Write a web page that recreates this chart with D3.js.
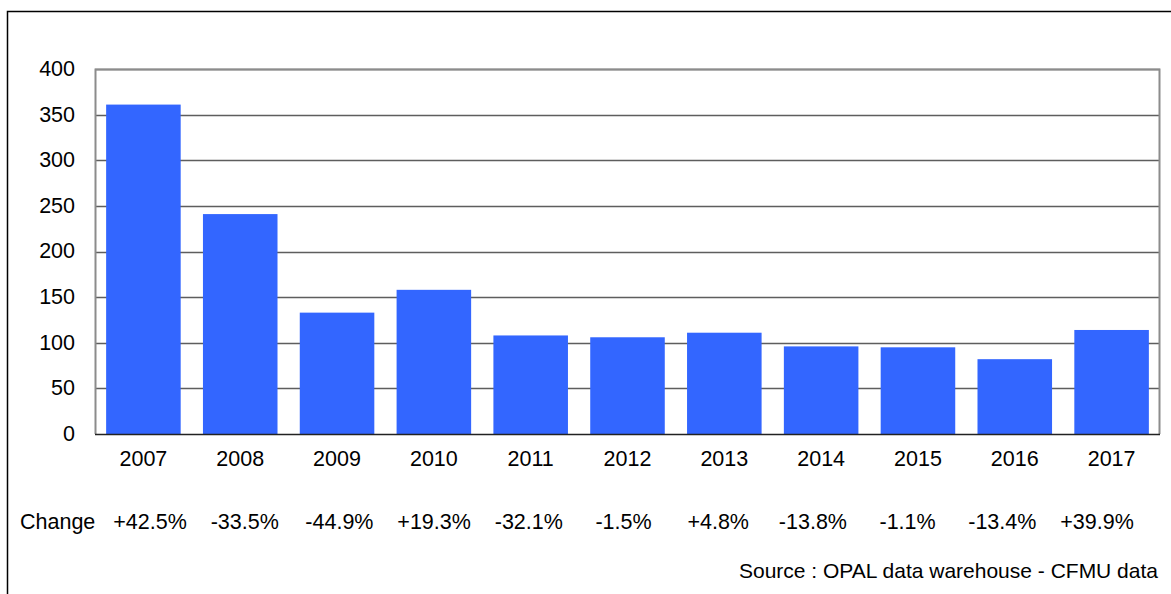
<!DOCTYPE html>
<html>
<head>
<meta charset="utf-8">
<script src="https://cdn.jsdelivr.net/npm/d3@7"></script>
<style>
  body { margin: 0; background: #fff; overflow: hidden; }
  text { font-family: "Liberation Sans", Arial, sans-serif; fill: #000; }
</style>
</head>
<body>
<script>
// data
var years = ["2007", "2008", "2009", "2010", "2011", "2012", "2013", "2014", "2015", "2016", "2017"];
var values = [361, 241, 133, 158, 108, 106, 111, 96, 95, 82, 114];
var changes = ["+42.5%", "-33.5%", "-44.9%", "+19.3%", "-32.1%", "-1.5%", "+4.8%", "-13.8%", "-1.1%", "-13.4%", "+39.9%"];
var yTicks = [0, 50, 100, 150, 200, 250, 300, 350, 400];

var width = 1171;
var height = 594;
var margin = {top: 69, right: 11, bottom: 160, left: 95};
var innerWidth = width - margin.left - margin.right;
var innerHeight = height - margin.top - margin.bottom;

var svg = d3.select("body")
    .append("svg")
        .attr("width", width)
        .attr("height", height)
        .style("display", "block");

// outer frame (only left and top edges show)
svg.append("path")
    .attr("d", "M7.5," + height + "V11.5H" + width)
    .attr("fill", "none")
    .attr("stroke", "#000")
    .attr("stroke-width", 1.5);

var g = svg.append("g")
    .attr("transform", "translate(" + margin.left + ", " + margin.top + ")");

//Scales
var x = d3.scaleBand()
    .domain(years)
    .range([0, innerWidth])
    .paddingInner(0.23)
    .paddingOuter(0.115);

var y = d3.scaleLinear()
    .domain([0, 400])
    .range([innerHeight, 0]);

// change row sits in its own table columns
var xc = d3.scalePoint()
    .domain(years)
    .range([150 - margin.left, 1097 - margin.left]);

// grid
g.selectAll(".grid")
    .data(yTicks.filter(d => d > 0))
    .enter()
    .append("line")
        .attr("class", "grid")
        .attr("x1", 0)
        .attr("x2", innerWidth)
        .attr("y1", d => Math.round(y(d)) + 0.5)
        .attr("y2", d => Math.round(y(d)) + 0.5)
        .attr("stroke", "#5e5e5e")
        .attr("stroke-width", 1.3);

// plot frame
g.append("path")
    .attr("d", "M0.5," + innerHeight + "V0.5H" + (innerWidth - 0.5) + "V" + innerHeight)
    .attr("fill", "none")
    .attr("stroke", "#8c8c8c")
    .attr("stroke-width", 2);

// bars
g.selectAll(".bar")
    .data(values)
    .enter()
    .append("rect")
        .attr("class", "bar")
        .attr("fill", "#3366ff")
        .attr("x", (d, i) => x(years[i]))
        .attr("width", x.bandwidth())
        .attr("y", d => y(d))
        .attr("height", d => innerHeight - y(d));

// bottom axis line
g.append("line")
    .attr("x1", 0)
    .attr("x2", innerWidth)
    .attr("y1", innerHeight + 0.5)
    .attr("y2", innerHeight + 0.5)
    .attr("stroke", "#222")
    .attr("stroke-width", 1.5);

// y labels
var leftAxis = d3.axisLeft(y)
    .tickValues(yTicks)
    .tickSize(0)
    .tickPadding(20);
var ya = g.append("g")
    .attr("class", "y-axis")
    .call(leftAxis);
ya.select(".domain").remove();
ya.selectAll("text")
    .attr("font-size", "21.5px")
    .attr("fill", "#000")
    .attr("dy", "0.3em")
    .style("font-family", "'Liberation Sans', Arial, sans-serif");

// x labels
var bottomAxis = d3.axisBottom(x)
    .tickSize(0)
    .tickPadding(17);
var xa = g.append("g")
    .attr("transform", "translate(0, " + innerHeight + ")")
    .call(bottomAxis);
xa.select(".domain").remove();
xa.selectAll("text")
    .attr("font-size", "21.5px")
    .attr("fill", "#000")
    .style("font-family", "'Liberation Sans', Arial, sans-serif");

// change row
svg.append("text")
    .attr("x", 20)
    .attr("y", 529)
    .attr("font-size", "21.5px")
    .text("Change");

g.selectAll(".chg")
    .data(changes)
    .enter()
    .append("text")
        .attr("class", "chg")
        .attr("x", (d, i) => xc(years[i]))
        .attr("y", 529 - margin.top)
        .attr("text-anchor", "middle")
        .attr("font-size", "21.5px")
        .text(d => d);

// source
svg.append("text")
    .attr("x", 1158)
    .attr("y", 578)
    .attr("text-anchor", "end")
    .attr("font-size", "21px")
    .text("Source : OPAL data warehouse - CFMU data");
</script>
</body>
</html>
